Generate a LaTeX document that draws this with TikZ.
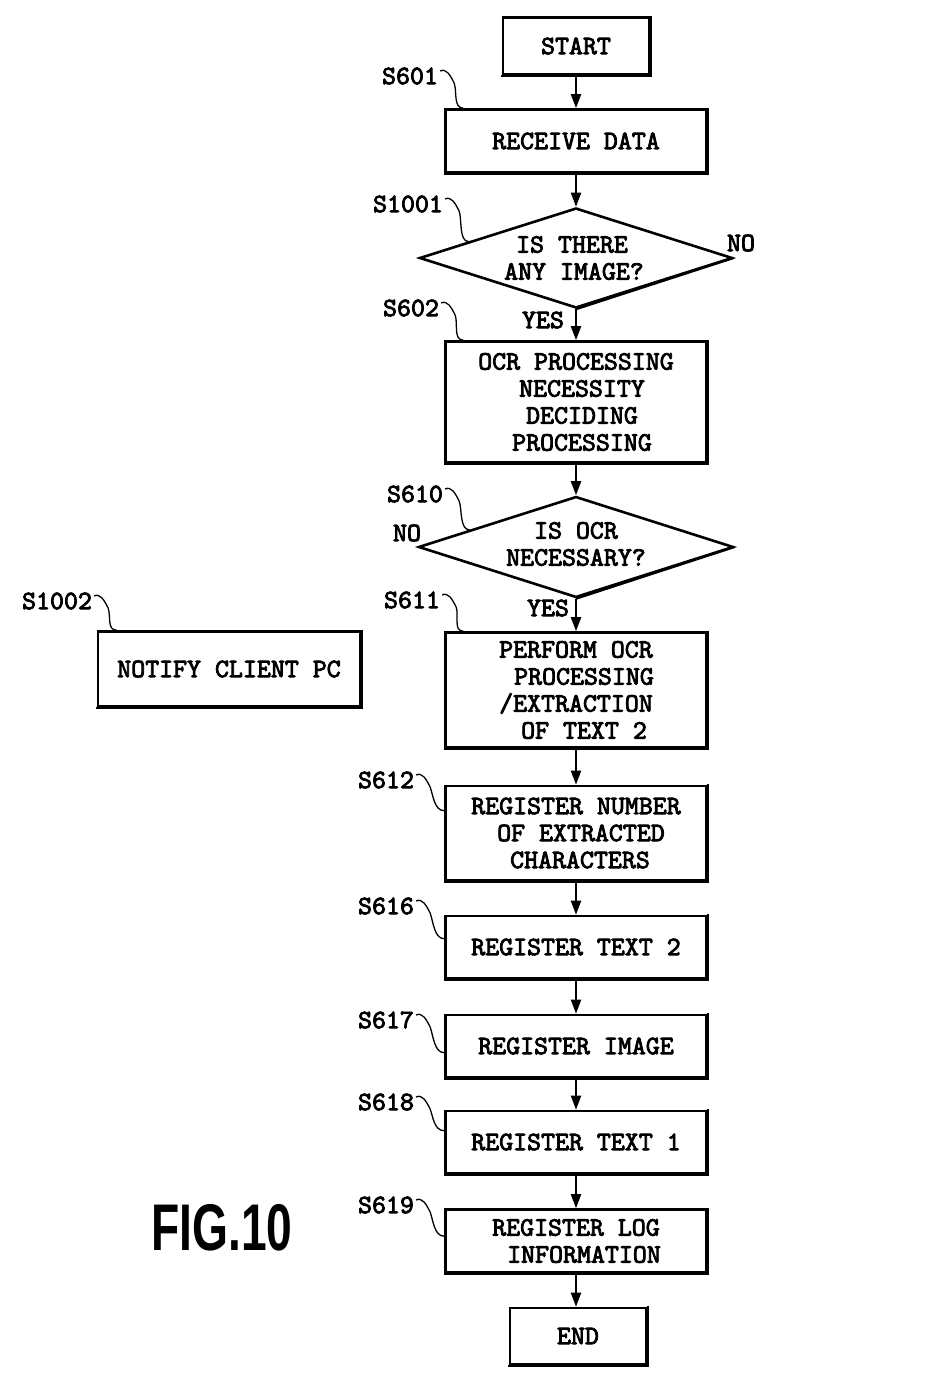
\documentclass[tikz,border=0pt]{standalone}
\usepackage{fontspec}
\usetikzlibrary{arrows.meta,shapes.geometric,calc}
\newfontfamily\pmono{lmmono10-regular}[Extension=.otf,FakeBold=3]
\newfontfamily\figfont{Liberation Sans}[FakeStretch=0.7]
\newcommand\boxshadow[1]{\draw[shadowln] ([xshift=0.4pt,yshift=0.5pt]#1.north east) -- ([xshift=0.4pt,yshift=-0.4pt]#1.south east) -- ([xshift=-0.5pt,yshift=-0.4pt]#1.south west);}
\newcommand\leadto[2]{\draw[leaderln] (#1) .. controls +(6,-3) and +(-4,-8) .. ($(#1)+(14,12)$) .. controls +(3,8) and +(-10,0) .. (#2);}
\newcommand\sh[1]{\hspace*{#1pt}}
\begin{document}
\begin{tikzpicture}[x=1pt,y=-1pt,
  every node/.style={font=\pmono\fontsize{26.6}{27}\selectfont},
  stepbox/.style={draw,line width=2.6pt,rectangle,inner sep=0pt,minimum width=261pt,align=center},
  decbox/.style={draw,line width=2.6pt,diamond,inner sep=0pt,minimum width=313pt,minimum height=100pt},
  shadowln/.style={line width=2pt},
  leaderln/.style={line width=1.3pt},
  flow/.style={line width=2pt,-{Triangle[length=14pt,width=10pt]}},
  lbl/.style={inner sep=0pt}]
\useasboundingbox (0,0) rectangle (937,1384);
% nodes
\node[stepbox,minimum width=146pt,minimum height=57pt] (start) at (576,46) {START};
\node[stepbox,minimum height=63pt] (recv) at (576,141) {RECEIVE DATA};
\node[decbox] (d1) at (576,258) {};
\node[inner sep=0pt,align=center] (d1t) at (574,258) {IS THERE\sh{4}\\ANY IMAGE?};
\node[stepbox,minimum height=121pt] (ocrnec) at (576,402) {OCR PROCESSING\\\sh{12}NECESSITY\\\sh{12}DECIDING\\\sh{12}PROCESSING};
\node[decbox,minimum width=315pt,minimum height=101pt] (d2) at (576,547) {};
\node[inner sep=0pt,align=center] (d2t) at (576,544) {IS OCR\\NECESSARY?};
\node[stepbox,minimum height=115pt] (perform) at (576,690) {PERFORM OCR\\\sh{16}PROCESSING\\/EXTRACTION\\\sh{16}OF TEXT 2};
\node[stepbox,minimum height=94pt] (regnum) at (576,833) {REGISTER NUMBER\\\sh{10}OF EXTRACTED\\\sh{8}CHARACTERS};
\node[stepbox,minimum height=62pt] (regt2) at (576,947) {REGISTER TEXT 2};
\node[stepbox,minimum height=62pt] (regimg) at (576,1046) {REGISTER IMAGE};
\node[stepbox,minimum height=62pt] (regt1) at (576,1142) {REGISTER TEXT 1};
\node[stepbox,minimum height=63pt] (reglog) at (576,1241) {REGISTER LOG\\\sh{16}INFORMATION};
\node[stepbox,minimum width=136pt,minimum height=56pt] (end) at (578,1336) {END};
\node[stepbox,minimum width=262pt,minimum height=75pt] (notify) at (229,669) {NOTIFY CLIENT PC};
% shadows
\foreach \n in {start,recv,ocrnec,perform,regnum,regt2,regimg,regt1,reglog,end,notify} {\boxshadow{\n}}
\draw[shadowln] (d1.east) -- (d1.south);
\draw[shadowln] (d2.east) -- (d2.south);
% flow
\draw[flow] (start) -- (recv);
\draw[flow] (recv) -- (d1);
\draw[flow] (d1.south) -- (ocrnec.north);
\draw[flow] (ocrnec) -- (d2);
\draw[flow] (d2.south) -- (perform.north);
\draw[flow] (perform) -- (regnum);
\draw[flow] (regnum) -- (regt2);
\draw[flow] (regt2) -- (regimg);
\draw[flow] (regimg) -- (regt1);
\draw[flow] (regt1) -- (reglog);
\draw[flow] (reglog.south) -- (reglog.south |- end.north);
% branch labels
\node[lbl] (y1) at (543,320) {YES};
\node[lbl] (n1) at (741,243) {NO};
\node[lbl] (n2) at (407,533) {NO};
\node[lbl] (y2) at (548,608) {YES};
% step labels
\node[lbl] (l601) at (410,76) {S601};
\node[lbl] (l1001) at (408,204) {S1001};
\node[lbl] (l602) at (411,308) {S602};
\node[lbl] (l610) at (415,494) {S610};
\node[lbl] (l611) at (412,600) {S611};
\node[lbl] (l612) at (386,780) {S612};
\node[lbl] (l616) at (386,906) {S616};
\node[lbl] (l617) at (386,1020) {S617};
\node[lbl] (l618) at (386,1102) {S618};
\node[lbl] (l619) at (386,1205) {S619};
\node[lbl] (l1002) at (57,601) {S1002};
\coordinate (e601) at ([xshift=19pt]recv.north west);
\coordinate (e1001) at ($(d1.west)!0.32!(d1.north)$);
\coordinate (e602) at ([xshift=19pt]ocrnec.north west);
\coordinate (e610) at ($(d2.west)!0.33!(d2.north)$);
\coordinate (e611) at ([xshift=19pt]perform.north west);
\coordinate (e612) at ([yshift=-26pt]regnum.north west);
\coordinate (e616) at ([yshift=-24pt]regt2.north west);
\coordinate (e617) at ([yshift=-39pt]regimg.north west);
\coordinate (e618) at ([yshift=-21pt]regt1.north west);
\coordinate (e619) at ([yshift=-28pt]reglog.north west);
\coordinate (e1002) at ([xshift=20pt]notify.north west);
\foreach \s in {601,1001,602,610,611,612,616,617,618,619,1002} {
  \leadto{$(l\s.east)+(2,-5)$}{e\s}
}
% figure title
\node[lbl,font=\figfont\bfseries\fontsize{66}{66}\selectfont] (fig) at (222,1228) {FIG.10};
\end{tikzpicture}
\end{document}
